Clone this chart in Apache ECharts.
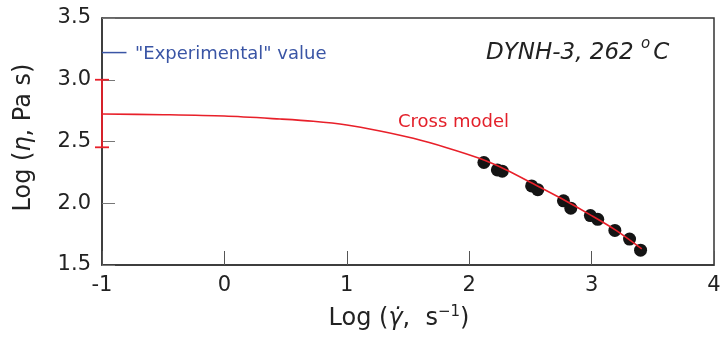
<!DOCTYPE html>
<html><head><meta charset="utf-8">
<script src="https://cdn.jsdelivr.net/npm/echarts@6/dist/echarts.min.js"></script>
<style>html,body{margin:0;padding:0;background:#fff}#c{width:720px;height:337px}</style>
</head><body><div id="c"></div>
<script>
// Measured data (log shear rate, log viscosity)
const logRate = [2.12, 2.23, 2.27, 2.51, 2.56, 2.77, 2.83, 2.99, 3.05, 3.19, 3.31, 3.40];
const logVisc = [2.33, 2.27, 2.26, 2.14, 2.11, 2.02, 1.96, 1.90, 1.87, 1.78, 1.71, 1.62];
// Cross model curve
const modelX = [-1, -0.5, 0, 0.454, 0.726, 1.0, 1.271, 1.543, 1.816, 2.088, 2.3, 2.5, 2.75, 3.0, 3.2, 3.41];
const modelY = [2.723, 2.717, 2.706, 2.682, 2.664, 2.634, 2.585, 2.526, 2.450, 2.362, 2.272, 2.17, 2.04, 1.90, 1.78, 1.63];
// "Experimental" value marker and error bar on the axis
const expX = [-1, -0.8];
const expY = [3.22, 3.22];
const errBar = [[-1, 3.0, 2.453]];
const xTicks = [-1, 0, 1, 2, 3, 4];
const yTicks = [1.5, 2.0, 2.5, 3.0, 3.5];

const chart = echarts.init(document.getElementById('c'));
const F = '"DejaVu Sans", Verdana, sans-serif';
chart.setOption({
  animation: false,
  grid: {left: 102, right: 6, top: 18, bottom: 72, show: true, borderColor: '#333', borderWidth: 1.5,
         containLabel: false, outerBoundsMode: 'none'},
  xAxis: {
    type: 'value', min: xTicks[0], max: xTicks[xTicks.length-1], interval: 1,
    axisLine: {show: true, onZero: false, lineStyle: {color: '#333', width: 1.5}},
    axisTick: {inside: true, length: 14, lineStyle: {color: '#555'}},
    splitLine: {show: false},
    axisLabel: {color: '#222', fontSize: 21, fontFamily: F, margin: 10},
    name: '{n|Log (}{i|γ̇}{n|,  s}{s|−1}{n|)}', nameLocation: 'middle', nameGap: 40,
    nameTextStyle: {padding: [0, 18, 0, 0], rich: {
      n: {fontSize: 24, fontFamily: F, color: '#222', lineHeight: 28},
      i: {fontSize: 24, fontFamily: F, color: '#222', fontStyle: 'italic', lineHeight: 28},
      s: {fontSize: 15, fontFamily: F, color: '#222', verticalAlign: 'top', lineHeight: 15}
    }}
  },
  yAxis: {
    type: 'value', min: yTicks[0], max: yTicks[yTicks.length-1], interval: 0.5,
    axisLine: {show: true, onZero: false, lineStyle: {color: '#333', width: 1.5}},
    axisTick: {show: true, inside: true, length: 13, lineStyle: {color: '#777'}},
    splitLine: {show: false},
    axisLabel: {color: '#222', fontSize: 21, fontFamily: F, margin: 11, formatter: v => v.toFixed(1)},
    name: '{n|Log (}{i|η}{n|, Pa s)}', nameLocation: 'middle', nameGap: 66, nameRotate: 90,
    nameTextStyle: {padding: [0, 0, 0, 8], rich: {
      n: {fontSize: 24, fontFamily: F, color: '#222'},
      i: {fontSize: 24, fontFamily: F, color: '#222', fontStyle: 'italic'}
    }}
  },
  graphic: [
    {type: 'text', left: 135, top: 45, style: {text: '"Experimental" value', fill: '#3a55a5', fontSize: 18, fontFamily: F}},
    {type: 'text', left: 398, top: 113, style: {text: 'Cross model', fill: '#e3202a', fontSize: 18, fontFamily: F}},
    {type: 'text', left: 486, top: 37, style: {
      rich: {
        t: {fontSize: 23, fontFamily: F, fontStyle: 'italic', fill: '#222'},
        o: {fontSize: 15, fontFamily: F, fontStyle: 'italic', fill: '#222', verticalAlign: 'top', padding: [0,3,18,0]}
      },
      text: '{t|DYNH-3, 262 }{o|o}{t|C}'
    }}
  ],
  series: [
    {type: 'line', data: modelX.map((x,i)=>[x, modelY[i]]), smooth: 0.3, showSymbol: false,
     lineStyle: {color: '#e8202a', width: 1.6}, z: 3},
    {type: 'scatter', data: logRate.map((x,i)=>[x, logVisc[i]]), symbolSize: 13,
     itemStyle: {color: '#141414', opacity: 1}, z: 2},
    {type: 'line', data: expX.map((x,i)=>[x, expY[i]]), showSymbol: false,
     lineStyle: {color: '#3a55a5', width: 1.5}, clip: false},
    {type: 'custom', data: errBar, clip: false, z: 4,
     renderItem: (params, api) => {
       const top = api.coord([api.value(0), api.value(1)]);
       const bot = api.coord([api.value(0), api.value(2)]);
       const st = {stroke: '#e8202a', lineWidth: 1.8};
       return {type: 'group', children: [
         {type: 'line', shape: {x1: top[0], y1: top[1], x2: bot[0], y2: bot[1]}, style: st},
         {type: 'line', shape: {x1: top[0]-7, y1: top[1], x2: top[0]+7, y2: top[1]}, style: st},
         {type: 'line', shape: {x1: bot[0]-7, y1: bot[1], x2: bot[0]+7, y2: bot[1]}, style: st}
       ]};
     }}
  ]
});
</script></body></html>
